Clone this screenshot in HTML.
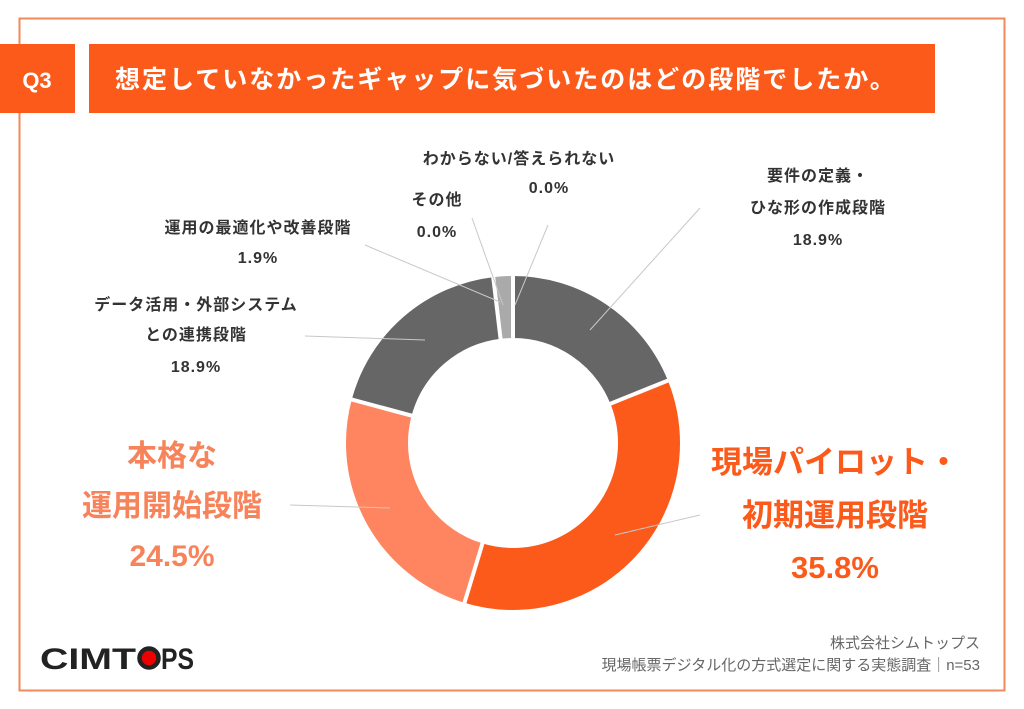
<!DOCTYPE html>
<html><head><meta charset="utf-8"><style>
body{margin:0;width:1024px;height:709px;background:#fff;overflow:hidden;font-family:"Liberation Sans","Noto Sans CJK JP",sans-serif;}
</style></head><body>
<svg width="1024" height="709" xmlns="http://www.w3.org/2000/svg" style="position:absolute;left:0;top:0">
<rect x="19.5" y="18.5" width="985" height="672" fill="none" stroke="#f08a5a" stroke-width="2"/>
<rect x="0" y="44" width="75" height="69" fill="#fc5a1a"/>
<rect x="89" y="44" width="846" height="69" fill="#fc5a1a"/>
<text x="37" y="88" fill="#fff" font-size="22" font-weight="bold" text-anchor="middle" font-family="Liberation Sans, sans-serif">Q3</text>
<text x="115" y="88" fill="#fff" font-size="25" font-weight="bold" font-family="Liberation Sans, Noto Sans CJK JP, sans-serif" letter-spacing="2">想定していなかったギャップに気づいたのはどの段階でしたか。</text>

<g transform="rotate(-90 513 443)" fill="none" stroke-width="62">
<circle cx="513" cy="443" r="136" stroke="#666" stroke-dasharray="161.5 1000" stroke-dashoffset="0"/>
<circle cx="513" cy="443" r="136" stroke="#fc5a1a" stroke-dasharray="305.9 1000" stroke-dashoffset="-161.5"/>
<circle cx="513" cy="443" r="136" stroke="#fe8560" stroke-dasharray="209.4 1000" stroke-dashoffset="-467.4"/>
<circle cx="513" cy="443" r="136" stroke="#666" stroke-dasharray="161.5 1000" stroke-dashoffset="-676.8"/>
<circle cx="513" cy="443" r="136" stroke="#aaa" stroke-dasharray="16.2 1000" stroke-dashoffset="-838.3"/>
</g>
<g stroke="#fff" stroke-width="4">
<line x1="513" y1="443" x2="513" y2="270" transform="rotate(0 513 443)"/>
<line x1="513" y1="443" x2="513" y2="270" transform="rotate(68.04 513 443)"/>
<line x1="513" y1="443" x2="513" y2="270" transform="rotate(196.9 513 443)"/>
<line x1="513" y1="443" x2="513" y2="270" transform="rotate(285.1 513 443)"/>
<line x1="513" y1="443" x2="513" y2="270" transform="rotate(353.2 513 443)"/>
</g>
<circle cx="513" cy="443" r="104" fill="#fff"/>

<g stroke="#c8c8c8" stroke-width="1" fill="none">
<line x1="700" y1="208" x2="590" y2="330"/>
<line x1="700" y1="515" x2="615" y2="535"/>
<line x1="290" y1="505" x2="390" y2="508"/>
<line x1="305" y1="336" x2="425" y2="340"/>
<line x1="365" y1="245" x2="500" y2="302"/>
<line x1="472" y1="218" x2="503" y2="305"/>
<line x1="548" y1="225" x2="515" y2="305"/>
</g>

<g font-size="16" font-weight="bold" fill="#333" text-anchor="middle" letter-spacing="1">
<text x="519" y="164">わからない/答えられない</text>
<text x="549" y="193">0.0%</text>
<text x="437" y="205">その他</text>
<text x="437" y="237">0.0%</text>
<text x="258" y="233">運用の最適化や改善段階</text>
<text x="258" y="263">1.9%</text>
<text x="196" y="310">データ活用・外部システム</text>
<text x="196" y="340">との連携段階</text>
<text x="196" y="372">18.9%</text>
<text x="818" y="181">要件の定義・</text>
<text x="818" y="213">ひな形の作成段階</text>
<text x="818" y="245">18.9%</text>
</g>
<g font-size="30" font-weight="bold" fill="#f7835a" text-anchor="middle">
<text x="172" y="466">本格な</text>
<text x="172" y="516">運用開始段階</text>
<text x="172" y="566">24.5%</text>
</g>
<g font-size="31" font-weight="bold" fill="#fc5a1a" text-anchor="middle">
<text x="835" y="473">現場パイロット・</text>
<text x="835" y="526">初期運用段階</text>
<text x="835" y="578">35.8%</text>
</g>

<text x="40" y="669" font-size="30" font-weight="bold" fill="#222" font-family="Liberation Sans, sans-serif" textLength="96" lengthAdjust="spacingAndGlyphs">CIMT</text>
<circle cx="149" cy="658" r="9.5" fill="#e00" stroke="#222" stroke-width="4.5"/>
<text x="161" y="669" font-size="30" font-weight="bold" fill="#222" font-family="Liberation Sans, sans-serif" textLength="33" lengthAdjust="spacingAndGlyphs">PS</text>
<g font-size="15" fill="#666" text-anchor="end">
<text x="980" y="648">株式会社シムトップス</text>
<text x="980" y="670">現場帳票デジタル化の方式選定に関する実態調査｜n=53</text>
</g>
</svg>
</body></html>
